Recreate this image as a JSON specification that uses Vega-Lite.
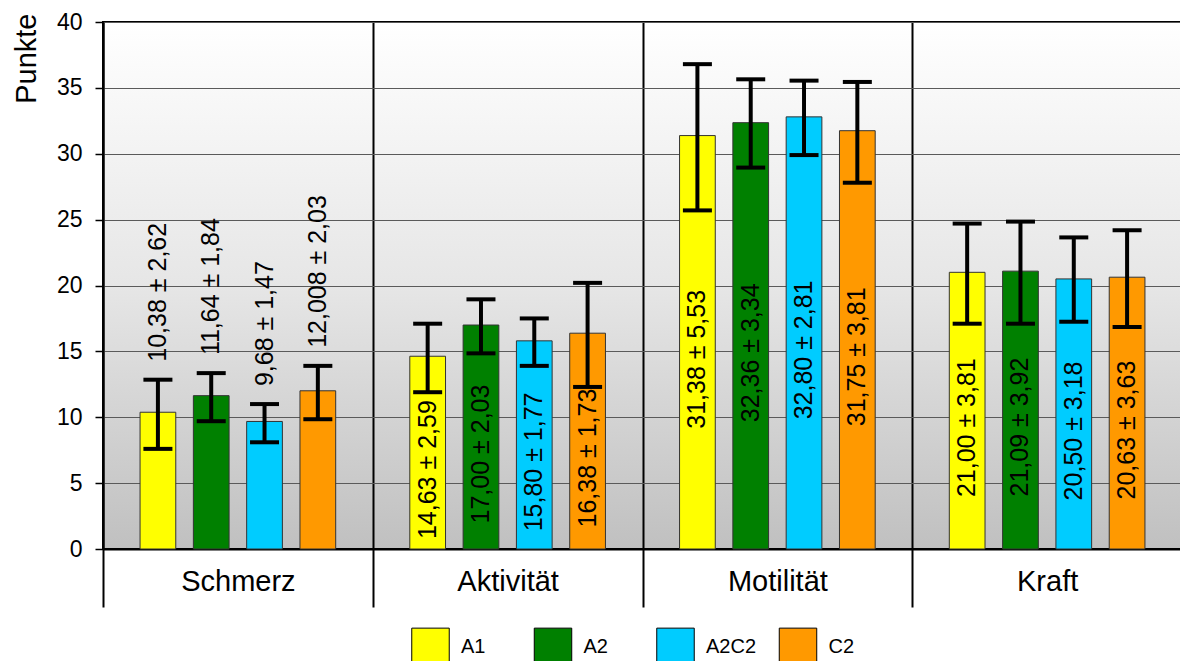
{
  "$schema": "https://vega.github.io/schema/vega-lite/v6.json",
  "width": 1079,
  "height": 527,
  "autosize": {"type": "none"},
  "padding": {"left": 103, "top": 22, "right": 0, "bottom": 112},
  "background": "white",
  "config": {
    "font": "Liberation Sans",
    "view": {
      "fill": {"gradient": "linear", "x1": 0, "y1": 0, "x2": 0, "y2": 1,
        "stops": [{"offset": 0, "color": "#ffffff"}, {"offset": 0.5, "color": "#e6e6e6"}, {"offset": 1, "color": "#c0c0c0"}]},
      "stroke": "black",
      "strokeWidth": 2
    }
  },
  "data": {"values": [
    {"cat": "Schmerz", "group": "A1", "mean": 10.38, "lo": 7.6, "hi": 12.85, "label": "10,38 ± 2,62"},
    {"cat": "Schmerz", "group": "A2", "mean": 11.64, "lo": 9.7, "hi": 13.35, "label": "11,64 ± 1,84"},
    {"cat": "Schmerz", "group": "A2C2", "mean": 9.68, "lo": 8.1, "hi": 11.0, "label": "9,68 ± 1,47"},
    {"cat": "Schmerz", "group": "C2", "mean": 12.008, "lo": 9.85, "hi": 13.9, "label": "12,008 ± 2,03"},
    {"cat": "Aktivität", "group": "A1", "mean": 14.63, "lo": 11.9, "hi": 17.1, "label": "14,63 ± 2,59"},
    {"cat": "Aktivität", "group": "A2", "mean": 17.0, "lo": 14.85, "hi": 18.95, "label": "17,00 ± 2,03"},
    {"cat": "Aktivität", "group": "A2C2", "mean": 15.8, "lo": 13.9, "hi": 17.5, "label": "15,80 ± 1,77"},
    {"cat": "Aktivität", "group": "C2", "mean": 16.38, "lo": 12.3, "hi": 20.2, "label": "16,38 ± 1,73"},
    {"cat": "Motilität", "group": "A1", "mean": 31.38, "lo": 25.7, "hi": 36.8, "label": "31,38 ± 5,53"},
    {"cat": "Motilität", "group": "A2", "mean": 32.36, "lo": 28.95, "hi": 35.65, "label": "32,36 ± 3,34"},
    {"cat": "Motilität", "group": "A2C2", "mean": 32.8, "lo": 29.9, "hi": 35.55, "label": "32,80 ± 2,81"},
    {"cat": "Motilität", "group": "C2", "mean": 31.75, "lo": 27.8, "hi": 35.45, "label": "31,75 ± 3,81"},
    {"cat": "Kraft", "group": "A1", "mean": 21.0, "lo": 17.1, "hi": 24.7, "label": "21,00 ± 3,81"},
    {"cat": "Kraft", "group": "A2", "mean": 21.09, "lo": 17.1, "hi": 24.85, "label": "21,09 ± 3,92"},
    {"cat": "Kraft", "group": "A2C2", "mean": 20.5, "lo": 17.25, "hi": 23.65, "label": "20,50 ± 3,18"},
    {"cat": "Kraft", "group": "C2", "mean": 20.63, "lo": 16.85, "hi": 24.2, "label": "20,63 ± 3,63"}
  ]},
  "encoding": {
    "x": {
      "field": "cat", "type": "nominal",
      "sort": ["Schmerz", "Aktivität", "Motilität", "Kraft"],
      "scale": {"paddingInner": 0, "paddingOuter": 0},
      "axis": {
        "title": null, "labelAngle": 0, "labelFontSize": 29, "labelColor": "black",
        "labelPadding": -17, "labelBaseline": "alphabetic",
        "tickBand": "extent", "tickSize": 58, "tickWidth": 2, "tickColor": "black",
        "domainColor": "black", "domainWidth": 2,
        "grid": true, "gridColor": "black", "gridWidth": 2
      }
    },
    "xOffset": {
      "field": "group", "type": "nominal",
      "sort": ["A1", "A2", "A2C2", "C2"],
      "scale": {"paddingInner": 0.33, "paddingOuter": 0.695}
    }
  },
  "layer": [
    {
      "layer": [
        {
          "mark": {"type": "bar", "stroke": "#333333", "strokeWidth": 1},
          "encoding": {
            "y": {
              "field": "mean", "type": "quantitative", "title": "Punkte",
              "scale": {"domain": [0, 40]},
              "axis": {
                "values": [0, 5, 10, 15, 20, 25, 30, 35, 40],
                "grid": true, "gridColor": "#5a5a5a", "gridWidth": 1,
                "domainColor": "black", "domainWidth": 2,
                "tickColor": "black", "tickSize": 8, "tickWidth": 1.5,
                "labelFontSize": 23, "labelColor": "black", "labelPadding": 13, "labelFlush": false,
                "titleFontSize": 29, "titleFontWeight": "normal", "titleColor": "black",
                "titleAngle": 270, "titleAlign": "right", "titleBaseline": "alphabetic",
                "titleX": -68, "titleY": -9
              }
            },
            "color": {
              "field": "group", "type": "nominal",
              "scale": {"domain": ["A1", "A2", "A2C2", "C2"], "range": ["#ffff00", "#008000", "#00ccff", "#ff9900"]},
              "legend": {
                "orient": "none", "legendX": 308, "legendY": 605,
                "direction": "horizontal", "columns": 4, "title": null,
                "symbolType": "square", "symbolSize": 1406,
                "symbolStrokeColor": "black", "symbolStrokeWidth": 1,
                "labelFontSize": 20, "labelColor": "black", "labelOffset": 11,
                "columnPadding": 19.5, "gridAlign": "all"
              }
            }
          }
        },
        {
          "mark": {"type": "rule", "strokeWidth": 4, "color": "black"},
          "encoding": {
            "y": {"field": "lo", "type": "quantitative", "title": "Punkte"},
            "y2": {"field": "hi"}
          }
        },
        {
          "mark": {"type": "tick", "thickness": 4, "size": 29, "color": "black", "opacity": 1},
          "encoding": {"y": {"field": "lo", "type": "quantitative", "title": "Punkte"}}
        },
        {
          "mark": {"type": "tick", "thickness": 4, "size": 29, "color": "black", "opacity": 1},
          "encoding": {"y": {"field": "hi", "type": "quantitative", "title": "Punkte"}}
        },
        {
          "transform": [{"filter": "datum.cat === 'Schmerz'"}],
          "mark": {"type": "text", "angle": 270, "align": "left", "baseline": "middle", "dx": 18, "fontSize": 25, "color": "black"},
          "encoding": {
            "y": {"field": "hi", "type": "quantitative", "title": "Punkte"},
            "text": {"field": "label"}
          }
        }
      ]
    },
    {
      "transform": [{"filter": "datum.cat !== 'Schmerz'"}],
      "mark": {"type": "text", "angle": 270, "align": "center", "baseline": "middle", "dx": -17, "fontSize": 25, "color": "black"},
      "encoding": {
        "y": {"field": "mean", "type": "quantitative", "scale": {"domain": [0, 80]}, "axis": null},
        "text": {"field": "label"}
      }
    }
  ],
  "resolve": {"scale": {"y": "independent"}}
}
